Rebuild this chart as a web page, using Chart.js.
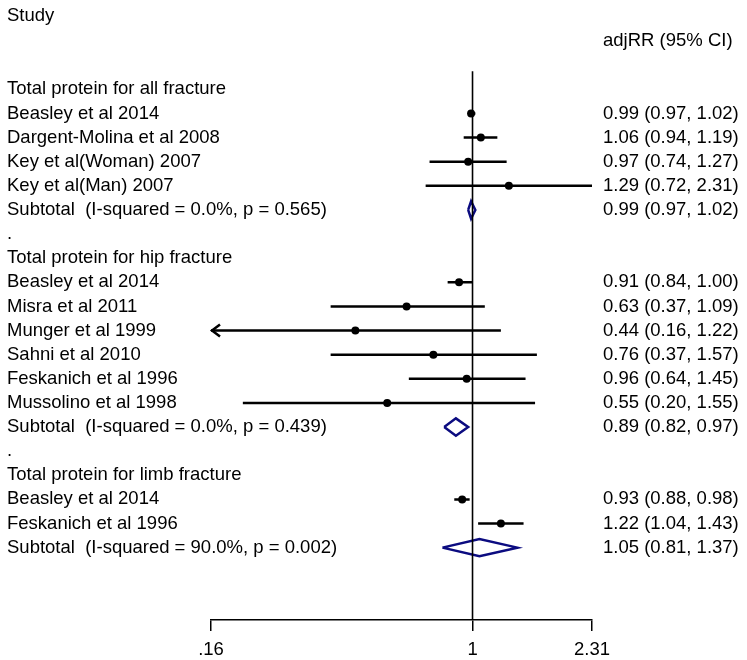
<!DOCTYPE html>
<html>
<head>
<meta charset="utf-8">
<script src="https://cdn.jsdelivr.net/npm/chart.js@4.4.1/dist/chart.umd.min.js"></script>
<style>
  html, body { margin: 0; padding: 0; background: #ffffff; }
  #wrap { width: 747px; height: 660px; }
</style>
</head>
<body>
<div id="wrap"><canvas id="c" width="747" height="660"></canvas></div>
<script>
// ---- Data ----
const rowLabels = [
  "Total protein for all fracture",
  "Beasley et al 2014",
  "Dargent-Molina et al 2008",
  "Key et al(Woman) 2007",
  "Key et al(Man) 2007",
  "Subtotal  (I-squared = 0.0%, p = 0.565)",
  ".",
  "Total protein for hip fracture",
  "Beasley et al 2014",
  "Misra et al 2011",
  "Munger et al 1999",
  "Sahni et al 2010",
  "Feskanich et al 1996",
  "Mussolino et al 1998",
  "Subtotal  (I-squared = 0.0%, p = 0.439)",
  ".",
  "Total protein for limb fracture",
  "Beasley et al 2014",
  "Feskanich et al 1996",
  "Subtotal  (I-squared = 90.0%, p = 0.002)"
];

const studyRows  = [1, 2, 3, 4, 8, 9, 10, 11, 12, 13, 17, 18];
const studyEst   = [0.99, 1.06, 0.97, 1.29, 0.91, 0.63, 0.44, 0.76, 0.96, 0.55, 0.93, 1.22];
const studyLow   = [0.97, 0.94, 0.74, 0.72, 0.84, 0.37, 0.16, 0.37, 0.64, 0.20, 0.88, 1.04];
const studyHigh  = [1.02, 1.19, 1.27, 2.31, 1.00, 1.09, 1.22, 1.57, 1.45, 1.55, 0.98, 1.43];

const subRows = [5, 14, 19];
const subEst  = [0.99, 0.89, 1.05];
const subLow  = [0.97, 0.82, 0.81];
const subHigh = [1.02, 0.97, 1.37];

const tickValues = [0.16, 1, 2.31];
const tickLabels = [".16", "1", "2.31"];
const headerStudy = "Study";
const headerEffect = "adjRR (95% CI)";

const X_MIN = 0.16, X_MAX = 2.31;
const Y_MIN = -3.54, Y_MAX = 22;
const NULL_LINE_TOP = -0.75;
const DIAMOND_HALF = 0.36;

// ---- Build datasets ----
const ciData = [];
studyRows.forEach((r, i) => {
  ciData.push({x: studyLow[i], y: r});
  ciData.push({x: studyHigh[i], y: r});
  ciData.push({x: studyHigh[i], y: null});
});
const estData = studyRows.map((r, i) => ({x: studyEst[i], y: r}));
const diamondData = [];
subRows.forEach((r, i) => {
  diamondData.push({x: subLow[i], y: r});
  diamondData.push({x: subEst[i], y: r - DIAMOND_HALF});
  diamondData.push({x: subHigh[i], y: r});
  diamondData.push({x: subEst[i], y: r + DIAMOND_HALF});
  diamondData.push({x: subLow[i], y: r});
  diamondData.push({x: subLow[i], y: null});
});

const fmt = v => v.toFixed(2);
const FONT = '18.5px "Liberation Sans", Arial, sans-serif';

const textPlugin = {
  id: 'forestText',
  beforeDraw(chart) {
    const ctx = chart.ctx;
    ctx.save();
    ctx.fillStyle = '#ffffff';
    ctx.fillRect(0, 0, chart.width, chart.height);
    ctx.restore();
  },
  afterDatasetsDraw(chart) {
    const ctx = chart.ctx;
    const xs = chart.scales.x, ys = chart.scales.y;
    ctx.save();
    // arrows for truncated CIs
    ctx.strokeStyle = '#000';
    ctx.lineWidth = 2.5;
    studyRows.forEach((r, i) => {
      const py = ys.getPixelForValue(r);
      if (studyLow[i] <= X_MIN) {
        const px = xs.getPixelForValue(X_MIN);
        ctx.beginPath();
        ctx.moveTo(px + 9, py - 6);
        ctx.lineTo(px + 1, py);
        ctx.lineTo(px + 9, py + 6);
        ctx.stroke();
      }
    });
    // text
    ctx.fillStyle = '#000';
    ctx.font = FONT;
    ctx.textBaseline = 'middle';
    ctx.textAlign = 'left';
    ctx.fillText(headerStudy, 7, ys.getPixelForValue(-3) - 1);
    ctx.fillText(headerEffect, 603, ys.getPixelForValue(-2));
    rowLabels.forEach((t, r) => {
      ctx.fillText(t, 7, ys.getPixelForValue(r));
    });
    studyRows.forEach((r, i) => {
      ctx.fillText(fmt(studyEst[i]) + " (" + fmt(studyLow[i]) + ", " + fmt(studyHigh[i]) + ")", 603, ys.getPixelForValue(r));
    });
    subRows.forEach((r, i) => {
      ctx.fillText(fmt(subEst[i]) + " (" + fmt(subLow[i]) + ", " + fmt(subHigh[i]) + ")", 603, ys.getPixelForValue(r));
    });
    ctx.restore();
  }
};

new Chart(document.getElementById('c'), {
  type: 'scatter',
  data: {
    datasets: [
      {
        type: 'line',
        label: 'null',
        data: [{x: 1, y: NULL_LINE_TOP}, {x: 1, y: Y_MAX}],
        borderColor: '#000', borderWidth: 1.6, pointRadius: 0, fill: false
      },
      {
        type: 'line',
        label: 'CI',
        data: ciData,
        borderColor: '#000', borderWidth: 2.5, pointRadius: 0, fill: false,
        spanGaps: false, borderCapStyle: 'butt'
      },
      {
        type: 'scatter',
        label: 'Estimate',
        data: estData,
        backgroundColor: '#000', borderColor: '#000',
        pointStyle: 'circle', pointRadius: 4, borderWidth: 0
      },
      {
        type: 'line',
        label: 'Subtotal',
        data: diamondData,
        borderColor: '#0b0b80', borderWidth: 2.5, pointRadius: 0, fill: false,
        spanGaps: false, borderJoinStyle: 'miter'
      }
    ]
  },
  options: {
    responsive: false,
    animation: false,
    layout: { padding: { left: 211, right: 155, top: 0, bottom: 0 } },
    plugins: { legend: { display: false }, tooltip: { enabled: false } },
    scales: {
      x: {
        type: 'logarithmic',
        min: X_MIN, max: X_MAX,
        afterBuildTicks(scale) { scale.ticks = tickValues.map(v => ({value: v})); },
        afterFit(scale) { scale.height = 40; },
        grid: { drawOnChartArea: false, drawTicks: true, tickLength: 11, color: '#000', lineWidth: 1.5 },
        border: { display: true, color: '#000', width: 1.5 },
        ticks: {
          autoSkip: false, maxRotation: 0, padding: 8,
          color: '#000',
          font: { family: '"Liberation Sans", Arial, sans-serif', size: 18.5 },
          callback: (v, i) => tickLabels[i]
        }
      },
      y: {
        type: 'linear', reverse: true, display: false,
        min: Y_MIN, max: Y_MAX
      }
    }
  },
  plugins: [textPlugin]
});
</script>
</body>
</html>
